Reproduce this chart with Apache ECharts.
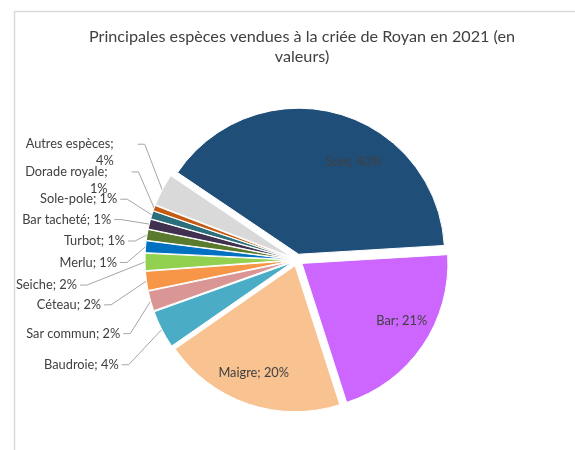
<!DOCTYPE html>
<html>
<head>
<meta charset="utf-8">
<script src="https://cdn.jsdelivr.net/npm/echarts@6/dist/echarts.min.js"></script>
<style>
html,body{margin:0;padding:0;background:#fff;}
#chart{width:575px;height:450px;}
</style>
</head>
<body>
<div id="chart"></div>
<script>
var titleText = 'Principales espèces vendues à la criée de Royan en 2021 (en\nvaleurs)';
var categories = ['Sole', 'Bar', 'Maigre', 'Baudroie', 'Sar commun', 'Céteau', 'Seiche', 'Merlu', 'Turbot', 'Bar tacheté', 'Sole-pole', 'Dorade royale', 'Autres espèces'];
var values = [39.6, 21.0, 20.3, 4.2, 2.2, 2.1, 1.9, 1.3, 1.2, 1.1, 0.9, 0.6, 3.6];
var colors = ['#1F4E79', '#CC66FF', '#F8C291', '#4BACC6', '#D99694', '#F79646', '#92D050', '#0070C0', '#5A7A2E', '#403151', '#2B6E7C', '#C55A11', '#D9D9D9'];
var insideNames = ['Sole', 'Bar', 'Maigre'];
var wrapNames = ['Autres espèces', 'Dorade royale'];

// label placement (layout only, not data)
var insideShift = {'Sole': [35, -19], 'Bar': [37, 15], 'Maigre': [-17, 35]};
// [anchor x, centre y, which edge of the label the x refers to]
var outsideAnchor = {
  'Autres espèces': [75, 155, 'center'],
  'Dorade royale': [72, 182, 'center'],
  'Sole-pole': [123, 201, 'right'],
  'Bar tacheté': [117, 221, 'right'],
  'Turbot': [131, 242, 'right'],
  'Merlu': [123, 263, 'right'],
  'Seiche': [83, 285, 'right'],
  'Céteau': [107, 304, 'right'],
  'Sar commun': [126, 332, 'right'],
  'Baudroie': [124, 362, 'right']
};

var FONT = 'Lato';
var chart = echarts.init(document.getElementById('chart'));

function fmt(p) {
  var pct = Math.round(p.percent) + '%';
  if (wrapNames.indexOf(p.name) >= 0) return p.name + ';\n' + pct;
  return p.name + '; ' + pct;
}

var data = categories.map(function (c, i) {
  var item = {name: c, value: values[i], itemStyle: {color: colors[i]}, selected: true};
  if (insideNames.indexOf(c) >= 0) {
    item.label = {position: 'inner'};
    item.labelLine = {show: false};
  }
  if (wrapNames.indexOf(c) >= 0) {
    item.label = {align: 'center'};
  }
  return item;
});

chart.setOption({
  backgroundColor: '#ffffff',
  animation: false,
  graphic: [{
    type: 'rect', left: 12, top: 9, silent: true,
    shape: {width: 620, height: 500},
    style: {fill: 'none', stroke: '#d9d9d9', lineWidth: 1.5}
  }],
  title: {
    text: titleText,
    left: 297, top: 22, textAlign: 'center',
    textStyle: {fontFamily: FONT, fontSize: 16.2, fontWeight: 'normal', color: '#404040', lineHeight: 20}
  },
  series: [{
    type: 'pie',
    center: [297, 260],
    radius: 146,
    startAngle: 146,
    clockwise: true,
    selectedMode: 'multiple',
    selectedOffset: 6,
    avoidLabelOverlap: false,
    itemStyle: {borderColor: '#ffffff', borderWidth: 1},
    label: {
      show: true,
      formatter: fmt,
      fontFamily: FONT,
      fontSize: 12.8,
      color: '#404040',
      lineHeight: 17
    },
    labelLine: {show: true, length: 12, length2: 10, lineStyle: {color: '#a6a6a6', width: 1}},
    labelLayout: function (params) {
      var name = categories[params.dataIndex];
      if (insideShift[name]) {
        return {dx: insideShift[name][0], dy: insideShift[name][1]};
      }
      var a = outsideAnchor[name];
      var r = params.labelRect;
      if (a && r) {
        var curX = a[2] === 'center' ? r.x + r.width / 2 : r.x + r.width;
        var curY = r.y + r.height / 2;
        var res = {dx: a[0] - curX, dy: a[1] - curY};
        var lp = params.labelLinePoints;
        if (lp && lp.length) {
          var ex, ey;
          if (a[2] === 'center') {
            ex = a[0] + r.width / 2 + 24;
            ey = a[1] - 8;
          } else {
            ex = a[0] + 3;
            ey = a[1];
          }
          var p0 = lp[0];
          res.labelLinePoints = [[p0[0], p0[1]], [ex + 7, ey], [ex, ey]];
        }
        return res;
      }
      return {};
    },
    emphasis: {disabled: true},
    data: data
  }]
});
</script>
</body>
</html>
